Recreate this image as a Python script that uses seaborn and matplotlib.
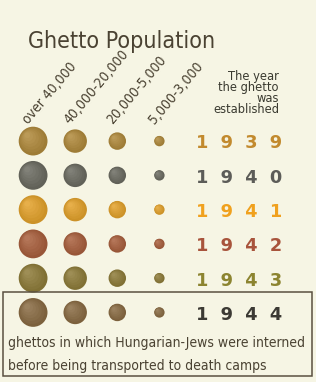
import numpy as np
import pandas as pd
import matplotlib
matplotlib.use("Agg")
import matplotlib.pyplot as plt
import matplotlib.transforms as mtransforms
import matplotlib.colors as mcolors
from matplotlib import font_manager
import seaborn as sns

# ---- data ----
size_classes = ["over 40,000", "40,000-20,000", "20,000-5,000", "5,000-3,000"]
years = ["1939", "1940", "1941", "1942", "1943", "1944"]
title_text = "Ghetto Population"
year_header = "The year\nthe ghetto\nwas\nestablished"
note_lines = ["ghettos in which Hungarian-Jews were interned",
              "before being transported to death camps"]

# ---- styles ----
circle_colors = ["#b08a3c", "#6c6c62", "#e3a22c", "#a9603e", "#8e7c3a", "#8a6c44"]
year_colors = ["#c28a2e", "#5c5c58", "#f0a11e", "#a8543c", "#8c8430", "#3c3a34"]
marker_areas = [430, 285, 158, 56]
bg = "#f6f5e4"
ink = "#4a4232"

sns.set_theme(style="white")

# choose the narrowest available sans
names = {(f.name, str(f.stretch)) for f in font_manager.fontManager.ttflist}
fam_names = {n for n, _ in names}
if "Liberation Sans Narrow" in fam_names:
    narrow = dict(family=["Liberation Sans Narrow", "DejaVu Sans"], fontstretch="normal")
elif any(n == "DejaVu Sans" and s in ("condensed", "semi-condensed", "75", "87")
         for n, s in names):
    narrow = dict(family=["DejaVu Sans"], fontstretch="condensed")
else:
    narrow = dict(family=["Lato", "DejaVu Sans"], fontstretch="normal")
plt.rcParams["font.family"] = narrow["family"]

W, H = 316, 382
fig = plt.figure(figsize=(W / 100, H / 100), dpi=100, facecolor=bg)
ax = fig.add_axes([0, 0, 1, 1])
ax.set_facecolor(bg)
renderer = fig.canvas.get_renderer()

df = pd.DataFrame([(s, y) for y in years for s in size_classes],
                  columns=["size_class", "year"])
df["col"] = df["size_class"].map({s: i for i, s in enumerate(size_classes)})
df["row"] = df["year"].map({y: j for j, y in enumerate(years)})

# shaded spheres: stacked layers, lighter and shifted to upper-left
n_layers = 7
white = np.array([1, 1, 1])
for k in range(n_layers):
    t = k / (n_layers - 1)
    f = 1 - 0.8 * t
    pal = {}
    for y, c in zip(years, circle_colors):
        rgb = np.array(mcolors.to_rgb(c))
        dark = rgb * 0.9
        light = rgb + (white - rgb) * 0.14
        pal[y] = tuple(dark + (light - dark) * t)
    for s, a in zip(size_classes, marker_areas):
        sub = df[df["size_class"] == s]
        r_px = np.sqrt(a) / 2 * 100 / 72
        shift = (1 - f) * r_px * 0.5
        sns.scatterplot(data=sub, x="col", y="row", hue="year", palette=pal,
                        s=a * f * f, linewidth=0, legend=False, ax=ax)
        coll = ax.collections[-1]
        coll.set_offset_transform(ax.transData + mtransforms.ScaledTranslation(
            -shift / 100, shift / 100, fig.dpi_scale_trans))

# layout: column pitch 42.1px starting at 33.1px; row pitch 34.27px starting at 141.1px
x0, dx = 33.1, 42.1
y0, dy = 141.1, 34.27
ax.set_xlim(-x0 / dx, (W - x0) / dx)
ax.set_ylim((H - y0) / dy, -y0 / dy)
ax.axis("off")


def fx(px):
    return px / W


def fy(py):
    return 1 - py / H


def fit_size(text, target_px, base=12, **kw):
    t = fig.text(0, 0, text, fontsize=base, **kw)
    w = t.get_window_extent(renderer).width
    t.remove()
    return base * target_px / w


st = narrow["fontstretch"]
fam = narrow["family"]

ts = fit_size(title_text, 187, family=fam, fontstretch=st)
fig.text(fx(28), fy(48), title_text, fontsize=ts, color=ink, family=fam,
         fontstretch=st, ha="left", va="baseline")

# rotated size class labels
ls = fit_size("20,000-5,000", 84, family=fam, fontstretch=st)
blend = mtransforms.blended_transform_factory(ax.transData, fig.transFigure)
lab_tr = blend + mtransforms.ScaledTranslation(-5 / 100, 0, fig.dpi_scale_trans)
for i, s in enumerate(size_classes):
    ax.text(i, fy(125), s, transform=lab_tr, rotation=50,
            rotation_mode="anchor", ha="left", va="baseline",
            fontsize=ls, color=ink, family=fam, fontstretch=st)

hs = fit_size("established", 66, family=fam, fontstretch=st)
fig.text(fx(279), fy(113), year_header, fontsize=hs, color="#3a3a30",
         family=fam, fontstretch=st,
         ha="right", va="baseline", multialignment="right", linespacing=0.8)

# year labels
ytr = mtransforms.blended_transform_factory(fig.transFigure, ax.transData)
for j, (y, c) in enumerate(zip(years, year_colors)):
    ax.text(fx(196), j + 0.07, "  ".join(y), transform=ytr, fontsize=12.8,
            fontweight="bold", color=c, ha="left", va="center",
            family="DejaVu Sans")

# box around Hungarian ghettos
rect = plt.Rectangle((fx(3), fy(376)), fx(312) - fx(3), fy(292) - fy(376),
                     transform=fig.transFigure, fill=False,
                     edgecolor="#5a5040", linewidth=1.1)
fig.add_artist(rect)
ns = fit_size(note_lines[0], 298, family=fam, fontstretch=st)
fig.text(fx(8), fy(347), note_lines[0], fontsize=ns, color=ink, family=fam,
         fontstretch=st, ha="left", va="baseline")
fig.text(fx(8), fy(370), note_lines[1], fontsize=ns, color=ink, family=fam,
         fontstretch=st, ha="left", va="baseline")

fig.savefig("out.png", dpi=100, facecolor=bg)
